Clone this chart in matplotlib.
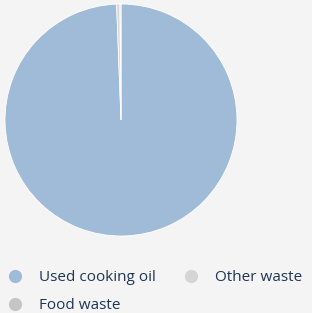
import matplotlib
matplotlib.use("Agg")
import matplotlib.pyplot as plt
from matplotlib.lines import Line2D

categories = ["Used cooking oil", "Other waste", "Food waste"]
values = [99.4, 0.45, 0.15]
colors = ["#a0bbd8", "#d4d5d5", "#c4c5c6"]

bg = "#f4f4f4"
text_color = "#1f3553"

fig = plt.figure(figsize=(3.12, 3.13), dpi=100, facecolor=bg)
ax = fig.add_axes([5/312, (313-236)/313, 232/312, 232/313])
ax.set_facecolor(bg)
ax.pie(values, colors=colors, startangle=90, counterclock=False, radius=1,
       wedgeprops=dict(edgecolor="white", linewidth=0.6))
ax.set_xlim(-1, 1)
ax.set_ylim(-1, 1)
ax.set_aspect("equal")
ax.axis("off")

handles = [Line2D([], [], marker="o", linestyle="", markersize=9.5,
                  markerfacecolor=c, markeredgecolor="none") for c in colors]
order = [0, 2, 1]
leg = fig.legend([handles[i] for i in order], [categories[i] for i in order],
                 ncol=2, loc="upper left", bbox_to_anchor=(0.0, 0.158),
                 frameon=False, prop=dict(family="Open Sans", size=11),
                 labelcolor=text_color, handletextpad=1.1, columnspacing=1.8,
                 labelspacing=0.82, handlelength=1.0, borderaxespad=0.1,
                 borderpad=0.35)

fig.savefig("out.png", dpi=100, facecolor=bg)
